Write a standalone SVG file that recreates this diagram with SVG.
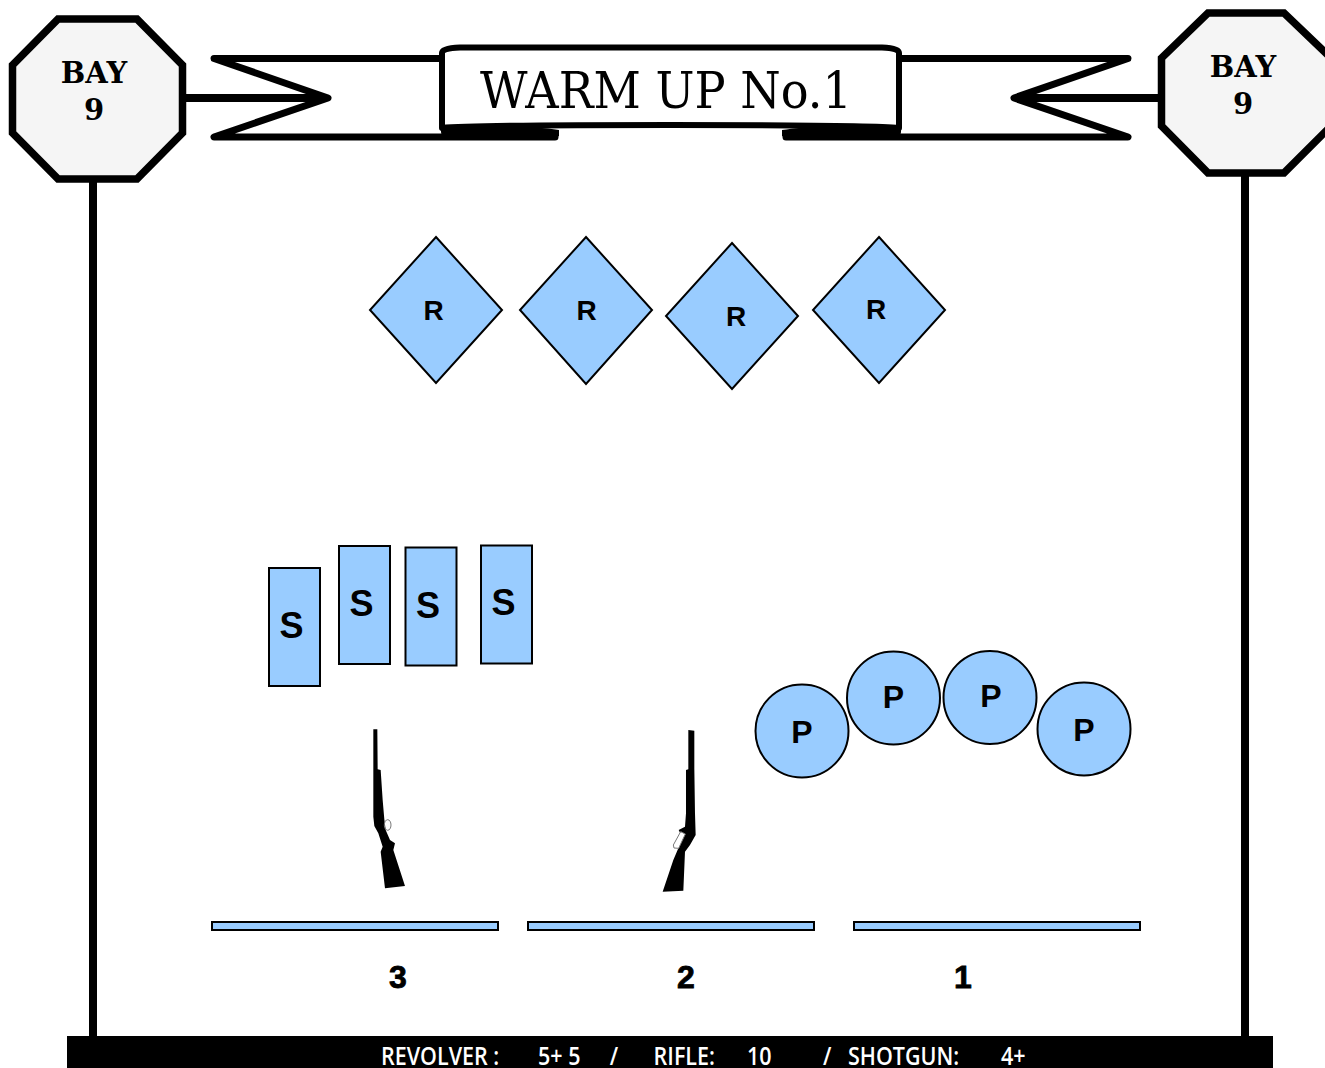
<svg xmlns="http://www.w3.org/2000/svg" width="1325" height="1068" viewBox="0 0 1325 1068">
<style>
.ln{fill:none;stroke:#000;stroke-width:7;stroke-linejoin:round;stroke-linecap:round}
.oct{fill:#f5f5f5;stroke:#000;stroke-width:7.5;stroke-linejoin:miter}
.t{fill:#99ccff;stroke:#000;stroke-width:2}
.bay{font-family:"DejaVu Serif","Liberation Serif",serif;font-weight:700;font-size:29px;fill:#000;text-anchor:middle}
.lab{font-family:"Liberation Sans",Arial,sans-serif;font-weight:700;fill:#000;text-anchor:middle}
</style>
<rect width="1325" height="1068" fill="#fff"/>
<g id="connectors">
<line x1="93" y1="178" x2="93" y2="1040" stroke="#000" stroke-width="8"/>
<line x1="1245" y1="172" x2="1245" y2="1040" stroke="#000" stroke-width="8"/>
<line x1="180" y1="98" x2="326" y2="98" stroke="#000" stroke-width="8"/>
<line x1="1016" y1="98" x2="1165" y2="98" stroke="#000" stroke-width="8"/>
</g>
<g id="banner">
<path class="ln" d="M444 58.500H214L328 98 214 137H555"/>
<path class="ln" d="M898 58.500H1128L1014 98 1128 137H786"/>
<path d="M441 124C480 122 530 126 559 130V136Q555 140 500 140H450Q441 138 441 132Z" fill="#000"/>
<path d="M901 124C860 122 810 126 782 130V136Q786 140 840 140H892Q901 138 901 132Z" fill="#000"/>
<path d="M442 128V53Q442 48 460 47.500H882Q899 48 899 53V128C860 124 480 124 442 128Z" fill="#fff" stroke="#000" stroke-width="6" stroke-linejoin="round"/>
<text x="666" y="108" font-family="DejaVu Serif,Liberation Serif,serif" font-size="50" textLength="372" lengthAdjust="spacingAndGlyphs" text-anchor="middle" fill="#000">WARM UP No.1</text>
</g>
<g id="bay-left">
<polygon class="oct" points="58,19 137,19 182.500,65 182.500,133 137,179 58,179 12.500,133 12.500,65"/>
<text class="bay" x="94" y="83">BAY</text>
<text class="bay" x="94" y="120">9</text>
</g>
<g id="bay-right">
<polygon class="oct" points="1208,13 1284,13 1331,58 1331,126 1284,173 1208,173 1161.500,126 1161.500,58"/>
<text class="bay" x="1243" y="77">BAY</text>
<text class="bay" x="1243" y="114">9</text>
</g>
<g id="r1"><polygon class="t" points="436,237 502,310 436,383 370,310"/><text class="lab" x="433.500" y="320" font-size="28">R</text></g>
<g id="r2"><polygon class="t" points="586,237 652,310 586,384 520,310"/><text class="lab" x="586.500" y="320" font-size="28">R</text></g>
<g id="r3"><polygon class="t" points="732,243 798,316 732,389 666,316"/><text class="lab" x="736" y="326" font-size="28">R</text></g>
<g id="r4"><polygon class="t" points="879,237 945,310 879,383 813,310"/><text class="lab" x="876" y="319" font-size="28">R</text></g>
<g id="s1"><rect class="t" x="269" y="568" width="51" height="118"/><text class="lab" x="291.500" y="638" font-size="36">S</text></g>
<g id="s2"><rect class="t" x="339" y="546" width="51" height="118"/><text class="lab" x="361.500" y="616" font-size="36">S</text></g>
<g id="s3"><rect class="t" x="405.500" y="547.500" width="51" height="118"/><text class="lab" x="428" y="618" font-size="36">S</text></g>
<g id="s4"><rect class="t" x="481" y="545.500" width="51" height="118"/><text class="lab" x="503.500" y="615" font-size="36">S</text></g>
<g id="p1"><circle class="t" cx="802" cy="731" r="46.500"/><text class="lab" x="802" y="743" font-size="32">P</text></g>
<g id="p2"><circle class="t" cx="893.500" cy="698" r="46.500"/><text class="lab" x="893.500" y="708" font-size="32">P</text></g>
<g id="p3"><circle class="t" cx="990" cy="697.500" r="46.500"/><text class="lab" x="991" y="707" font-size="32">P</text></g>
<g id="p4"><circle class="t" cx="1084" cy="729" r="46.500"/><text class="lab" x="1084" y="741" font-size="32">P</text></g>
<g id="shotgun" transform="translate(340 720) scale(.3333)">
<path d="M100 28H112L113 148 122 150 128 240 133 298 137 330 150 360 165 370 160 390 195 498 135 505 122 395 128 380 115 340 103 318 100 290 100 150Z" fill="#000"/>
<ellipse cx="143" cy="315" rx="10" ry="16" fill="none" stroke="#777" stroke-width="3"/>
</g>
<g id="rifle" transform="translate(640 720) scale(.3333)">
<path d="M145 30 163 32 163 145 165 280 167 345 150 375 135 395 130 512 68 515 100 420 115 385 128 355 116 330 135 320 138 280 138 150 145 148Z" fill="#000"/>
<path d="M122 335 136 342 116 385 102 384 100 375Z" fill="#fff" stroke="#777" stroke-width="3"/>
</g>
<g id="bar3"><rect class="t" x="212" y="922" width="286" height="8"/><text class="lab" x="398" y="988" font-size="32" stroke="#000" stroke-width=".8">3</text></g>
<g id="bar2"><rect class="t" x="528" y="922" width="286" height="8"/><text class="lab" x="686" y="988" font-size="32" stroke="#000" stroke-width=".8">2</text></g>
<g id="bar1"><rect class="t" x="854" y="922" width="286" height="8"/><text class="lab" x="963" y="988" font-size="32" stroke="#000" stroke-width=".8">1</text></g>
<g id="footer">
<rect x="67" y="1036" width="1206" height="32" fill="#000"/>
<text transform="translate(381 1065) scale(.86 1)" font-family="Open Sans,sans-serif" font-weight="600" font-size="25" fill="#fff"><tspan x="0">REVOLVER :</tspan><tspan x="182.600">5+ 5</tspan><tspan x="266">/</tspan><tspan x="317">RIFLE:</tspan><tspan x="425.600">10</tspan><tspan x="514">/</tspan><tspan x="543">SHOTGUN:</tspan><tspan x="721">4+</tspan></text>
</g>
</svg>
